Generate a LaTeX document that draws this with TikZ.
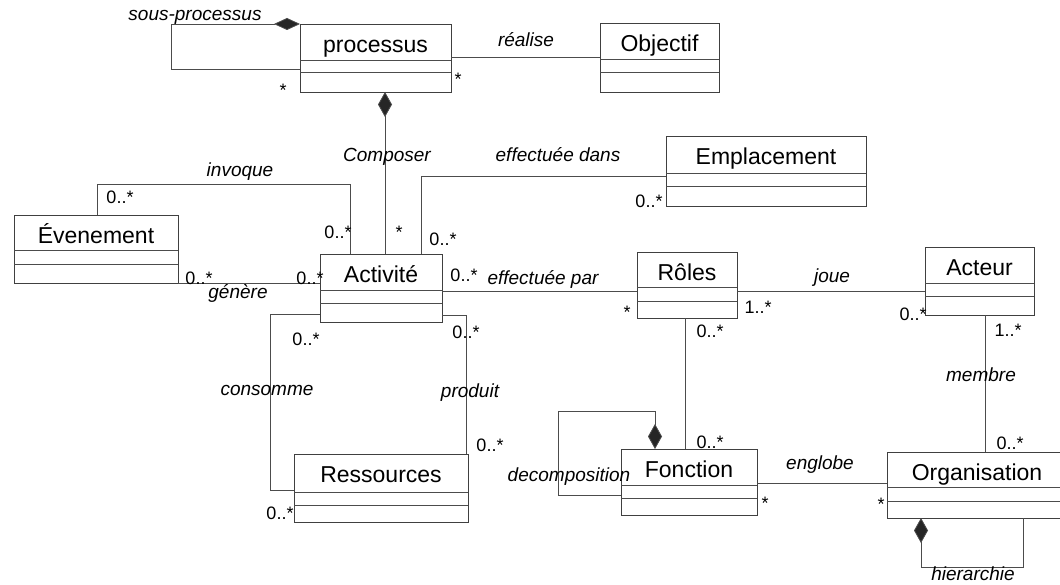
\documentclass[tikz,border=0pt]{standalone}
\usepackage{fontspec}
\setmainfont{Liberation Sans}
\usetikzlibrary{arrows.meta}
\tikzset{
  classbox/.style={draw=black!75, line width=0.9pt, inner sep=0pt, outer sep=0pt},
  classtitle/.style={font=\fontsize{23}{27}\selectfont, anchor=base, inner sep=0pt},
  divline/.style={draw=black!70, line width=0.8pt},
  assoc/.style={draw=black!70, line width=0.8pt},
  comp/.style={assoc, -{Diamond[length=25pt,width=14pt,fill=black!85]}},
  compflat/.style={assoc, -{Diamond[length=26pt,width=12pt,fill=black!85]}},
  rolename/.style={font=\fontsize{19}{22}\selectfont\itshape, inner sep=0pt},
  mult/.style={font=\fontsize{18}{22}\selectfont, inner sep=0pt},
}
% name, x1, y1, x2, y2, divider1, divider2, title
\newcommand\umlclass[8]{%
  \node[classbox, minimum width={#4-#2}, minimum height={#5-#3}] (#1) at ({(#2+#4)/2},{(#3+#5)/2}) {};
  \node[classtitle] (#1-t) at ({(#2+#4)/2},{#3+28.5}) {#8};
  \draw[divline] (#1.west |- 0,#6) -- (#1.east |- 0,#6);
  \draw[divline] (#1.west |- 0,#7) -- (#1.east |- 0,#7);
}
\begin{document}
\begin{tikzpicture}[x=1pt,y=-1pt]
\useasboundingbox (0,0) rectangle (1060,585);

% classes
\umlclass{proc}{300}{24}{451}{92}{60}{72}{processus}
\umlclass{obj}{600}{23}{719}{92}{59}{72}{Objectif}
\umlclass{emp}{666}{136}{866}{206}{173}{186}{Emplacement}
\umlclass{ev}{14}{215}{178}{283}{250}{264}{Évenement}
\umlclass{act}{320}{254}{442}{322}{290}{303}{Activité}
\umlclass{rol}{637}{252}{737}{318}{287}{301}{Rôles}
\umlclass{acteur}{925}{247}{1034}{315}{283}{296}{Acteur}
\umlclass{fon}{621}{449}{757}{515}{485}{498}{Fonction}
\umlclass{org}{887}{452}{1067}{518}{487}{501}{Organisation}
\umlclass{res}{294}{454}{468}{522}{492}{505}{Ressources}

% sous-processus
\draw[compflat] (proc.west |- 0,69) -| (171,24) -- (proc.north west);
\node[rolename] (l-sp) at (195,17) {sous-processus};
\node[mult] (m-sp) at (283,90) {*};

% réalise
\draw[assoc] (proc.east |- 0,57) -- (obj.west |- 0,57);
\node[rolename] (l-re) at (526,40) {réalise};
\node[mult] (m-re) at (458,79) {*};

% Composer
\draw[comp] (act.north -| 385,0) -- (proc.south -| 385,0);
\node[rolename] (l-co) at (387,157) {Composer};
\node[mult] (m-co) at (399,232) {*};

% invoque
\draw[assoc] (ev.north -| 97,0) -- (97,184) -| (act.north -| 350,0);
\node[rolename] (l-in) at (240,172) {invoque};
\node[mult] (m-in1) at (120,197) {0..*};
\node[mult] (m-in2) at (338,232) {0..*};

% effectuée dans
\draw[assoc] (act.north -| 421,0) |- (emp.west |- 0,176);
\node[rolename] (l-ed) at (558,155) {effectuée dans};
\node[mult] (m-ed1) at (443,239) {0..*};
\node[mult] (m-ed2) at (649,201) {0..*};

% génère
\draw[assoc] (ev.south east) -- (act.west |- ev.south east);
\node[rolename] (l-ge) at (238,293) {génère};
\node[mult] (m-ge1) at (199,278) {0..*};
\node[mult] (m-ge2) at (310,278) {0..*};

% effectuée par
\draw[assoc] (act.east |- 0,291) -- (rol.west |- 0,291);
\node[rolename] (l-ep) at (543,279) {effectuée par};
\node[mult] (m-ep1) at (464,275) {0..*};
\node[mult] (m-ep2) at (627,312) {*};

% joue
\draw[assoc] (rol.east |- 0,291) -- (acteur.west |- 0,291);
\node[rolename] (l-jo) at (832,278) {joue};
\node[mult] (m-jo1) at (758,307) {1..*};
\node[mult] (m-jo2) at (913,314) {0..*};

% Rôles - Fonction
\draw[assoc] (rol.south -| 685,0) -- (fon.north -| 685,0);
\node[mult] (m-rf1) at (710,331) {0..*};
\node[mult] (m-rf2) at (710,442) {0..*};

% decomposition
\draw[comp] (fon.west |- 0,495) -| (558,411) -| (fon.north -| 655,0);
\node[rolename] (l-de) at (569,477) {decomposition};

% englobe
\draw[assoc] (fon.east |- 0,483) -- (org.west |- 0,483);
\node[rolename] (l-en) at (820,465) {englobe};
\node[mult] (m-en1) at (765,503) {*};
\node[mult] (m-en2) at (881,504) {*};

% membre
\draw[assoc] (acteur.south -| 985,0) -- (org.north -| 985,0);
\node[rolename] (l-me) at (981,375) {membre};
\node[mult] (m-me1) at (1008,330) {1..*};
\node[mult] (m-me2) at (1010,443) {0..*};

% hierarchie
\draw[comp] (org.south -| 1023,0) |- (921,567) -- (org.south -| 921,0);
\node[rolename] (l-hi) at (973,574) {hierarchie};

% consomme
\draw[assoc] (act.west |- 0,314) -| (270,490) -- (res.west |- 0,490);
\node[rolename] (l-cs) at (267,390) {consomme};
\node[mult] (m-cs1) at (306,339) {0..*};
\node[mult] (m-cs2) at (280,513) {0..*};

% produit
\draw[assoc] (act.east |- 0,315) -| (res.north -| 466,0);
\node[rolename] (l-pr) at (470,393) {produit};
\node[mult] (m-pr1) at (466,332) {0..*};
\node[mult] (m-pr2) at (490,445) {0..*};
\end{tikzpicture}
\end{document}
